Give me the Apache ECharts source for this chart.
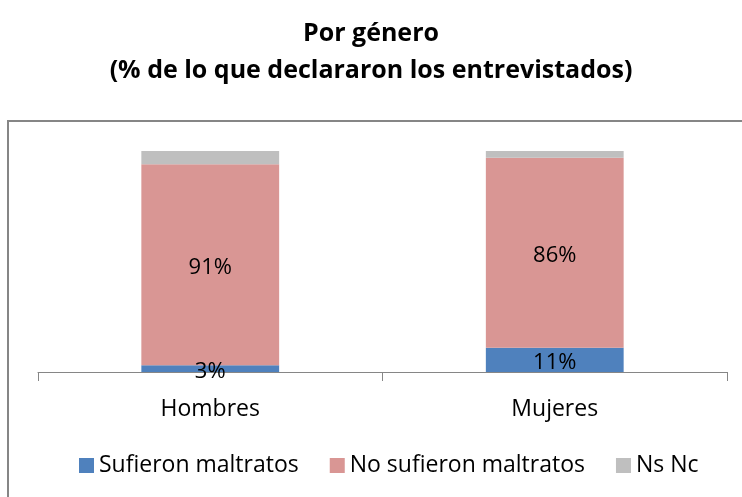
<!DOCTYPE html>
<html>
<head>
<meta charset="utf-8">
<script src="https://cdn.jsdelivr.net/npm/echarts@6/dist/echarts.min.js"></script>
<style>
  html, body { margin: 0; padding: 0; background: #fff; }
  #chart { width: 742px; height: 497px; }
</style>
</head>
<body>
<div id="chart"></div>
<script>
const categories = ['Hombres', 'Mujeres']
const sufrieron = [3, 11]
const noSufrieron = [91, 86]
const nsNc = [6, 3]

const seriesNames = ['Sufieron maltratos', 'No sufieron maltratos', 'Ns Nc']
const colors = ['#4F81BD', '#D99694', '#BFBFBF']
const font = '"Open Sans", "Noto Sans", sans-serif'

const chart = echarts.init(document.getElementById('chart'))

const labelStyle = {
  show: true,
  position: 'inside',
  offset: [0, 3],
  color: '#000',
  fontFamily: font,
  fontSize: 22,
  formatter: (p) => p.value + '%',
}

chart.setOption({
  animation: false,
  title: {
    text: 'Por género\n(% de lo que declararon los entrevistados)',
    left: 'center',
    top: 10,
    textStyle: {
      fontFamily: font,
      fontWeight: 'bold',
      fontSize: 25,
      lineHeight: 37,
      color: '#000',
    },
  },
  graphic: [
    {
      type: 'rect',
      shape: { x: 8, y: 121, width: 760, height: 400 },
      style: { fill: 'none', stroke: '#868686', lineWidth: 2 },
      silent: true,
      z: -1,
    },
  ],
  legend: {
    top: 449,
    left: 74,
    itemWidth: 15,
    itemHeight: 15,
    itemGap: 31,
    icon: 'rect',
    textStyle: { fontFamily: font, fontSize: 23, color: '#000' },
    data: seriesNames,
  },
  grid: { left: 38, right: 15, top: 151, bottom: 125 },
  xAxis: {
    type: 'category',
    data: categories,
    axisLine: { lineStyle: { color: '#868686', width: 1 } },
    axisTick: { show: true, length: 9, lineStyle: { color: '#868686' } },
    axisLabel: { color: '#000', fontFamily: font, fontSize: 23, margin: 26 },
  },
  yAxis: {
    type: 'value',
    min: 0,
    max: 100,
    show: false,
    splitLine: { show: false },
  },
  series: [
    { name: seriesNames[0], type: 'bar', stack: 'total', data: sufrieron, barWidth: '40%', itemStyle: { color: colors[0] }, label: labelStyle },
    { name: seriesNames[1], type: 'bar', stack: 'total', data: noSufrieron, itemStyle: { color: colors[1] }, label: labelStyle },
    { name: seriesNames[2], type: 'bar', stack: 'total', data: nsNc, itemStyle: { color: colors[2] } },
  ],
})
</script>
</body>
</html>
